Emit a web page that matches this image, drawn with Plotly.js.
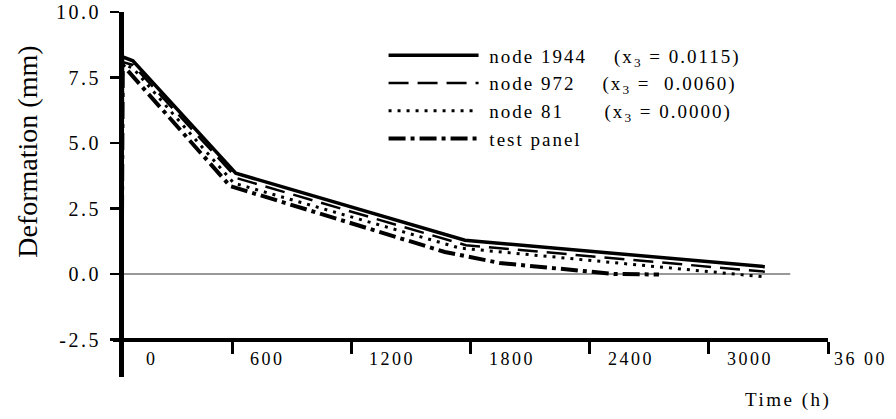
<!DOCTYPE html>
<html>
<head>
<meta charset="utf-8">
<script src="https://cdn.plot.ly/plotly-3.0.1.min.js"></script>
<style>
  html, body { margin: 0; padding: 0; background: #fff; }
  #chart { width: 896px; height: 419px; }
  .legendtext { letter-spacing: 2px; }
  .ytick text { letter-spacing: 2.5px; }
  .annotation-text { letter-spacing: 2.5px; }
</style>
</head>
<body>
<div id="chart"></div>
<script>
// Creep deformation of the panel over time: three FE nodes and the tested panel.
const timeNode1944 = [44, 48, 100, 618, 1772, 3282];
const defNode1944  = [0, 8.29, 8.14, 3.85, 1.29, 0.28];

const timeNode972 = [44, 49, 100, 623, 1777, 3282];
const defNode972  = [0, 8.09, 7.98, 3.66, 1.10, 0.09];

const timeNode81 = [44, 49, 100, 608, 1746, 3267];
const defNode81  = [0, 8.01, 7.86, 3.47, 0.99, -0.10];

const timeTest = [44, 49, 589, 1671, 1948, 2301, 2527, 2749];
const defTest  = [0, 7.98, 3.36, 0.84, 0.42, 0.15, 0.0, -0.02];

const seriesNames = [
  '\u2009node 1944\u00a0\u00a0\u00a0\u00a0(x<sub>3</sub> = 0.0115)',
  '\u2009node 972\u00a0\u00a0\u00a0\u00a0(x<sub>3</sub> =\u00a0 0.0060)',
  '\u2009node 81\u00a0\u00a0\u00a0\u00a0\u00a0\u00a0(x<sub>3</sub> = 0.0000)',
  '\u2009test panel'
];

const yTickVals = [-2.5, 0, 2.5, 5, 7.5, 10];
const yTickText = ['-2.5', '0.0', '2.5', '5.0', '7.5', '10.0'];
const xTickVals = [0, 600, 1200, 1800, 2400, 3000, 3600];
const xTickText = ['0', '600', '1200', '1800', '2400', '3000', '36 00'];

const serif = 'Liberation Serif, Times New Roman, serif';

const traces = [
  { x: timeNode1944, y: defNode1944, name: seriesNames[0],
    line: { color: '#000', width: 3.5, dash: 'solid' } },
  { x: timeNode972, y: defNode972, name: seriesNames[1],
    line: { color: '#000', width: 2.5, dash: '20px,9px' } },
  { x: timeNode81, y: defNode81, name: seriesNames[2],
    line: { color: '#000', width: 3, dash: '3px,6px' } },
  { x: timeTest, y: defTest, name: seriesNames[3],
    line: { color: '#000', width: 4, dash: '17px,5px,4px,5px' } }
].map(t => Object.assign({ type: 'scatter', mode: 'lines' }, t));

// x tick labels sit to the right of their tick marks
const labelNudge = { 0: 31, 3600: 4 };
const xLabelAnnotations = xTickVals.map((v, i) => ({
  x: v, xref: 'x', y: -2.5, yref: 'y',
  text: xTickText[i], showarrow: false,
  xanchor: 'left', align: 'left', yanchor: 'middle',
  xshift: (labelNudge[v] !== undefined ? labelNudge[v] : 16), yshift: -19.5,
  font: { family: serif, size: 18, color: '#000' }
}));

const layout = {
  width: 896, height: 419,
  margin: { l: 113, r: 68, t: 12, b: 42 },
  paper_bgcolor: '#fff', plot_bgcolor: '#fff',
  font: { family: serif, color: '#000' },
  showlegend: true,
  legend: {
    x: 0.3784, y: 0.933, xanchor: 'left', yanchor: 'top',
    bgcolor: 'rgba(0,0,0,0)', borderwidth: 0,
    font: { family: serif, size: 19, color: '#000' },
    itemwidth: 90, traceorder: 'normal'
  },
  xaxis: {
    range: [0, 3600], showgrid: false, zeroline: false,
    showline: true, linewidth: 4, linecolor: '#000',
    ticks: 'outside', ticklen: 12, tickwidth: 3, tickcolor: '#000',
    tickvals: xTickVals.slice(1), showticklabels: false,
    anchor: 'free', position: 0.1015
  },
  yaxis: {
    range: [-3.931, 10.0005], showgrid: false, zeroline: false,
    showline: true, linewidth: 5, linecolor: '#000',
    ticks: 'outside', ticklen: 9, tickwidth: 2.5, tickcolor: '#000',
    tickvals: yTickVals, ticktext: yTickText,
    tickfont: { family: serif, size: 20, color: '#000' },
    ticklabelstandoff: 5, ticklabeloverflow: 'allow',
    anchor: 'free', position: 0.0112
  },
  shapes: [
    { type: 'line', xref: 'x', yref: 'y', x0: 0, x1: 3410, y0: 0, y1: 0,
      line: { color: '#333', width: 1 }, layer: 'below' }
  ],
  annotations: [
    { xref: 'paper', yref: 'paper', x: -0.119, y: 0.617,
      text: '<span style="letter-spacing:0px">Deformation (mm)</span>',
      textangle: -90, showarrow: false, xanchor: 'center', yanchor: 'middle',
      font: { family: serif, size: 28, color: '#000' } },
    { xref: 'paper', yref: 'paper', x: 0.944, y: -0.0625,
      text: 'Time (h)', showarrow: false, xanchor: 'center', yanchor: 'middle',
      font: { family: serif, size: 19, color: '#000' } }
  ].concat(xLabelAnnotations)
};

Plotly.newPlot('chart', traces, layout, { staticPlot: true, displayModeBar: false });
</script>
</body>
</html>
